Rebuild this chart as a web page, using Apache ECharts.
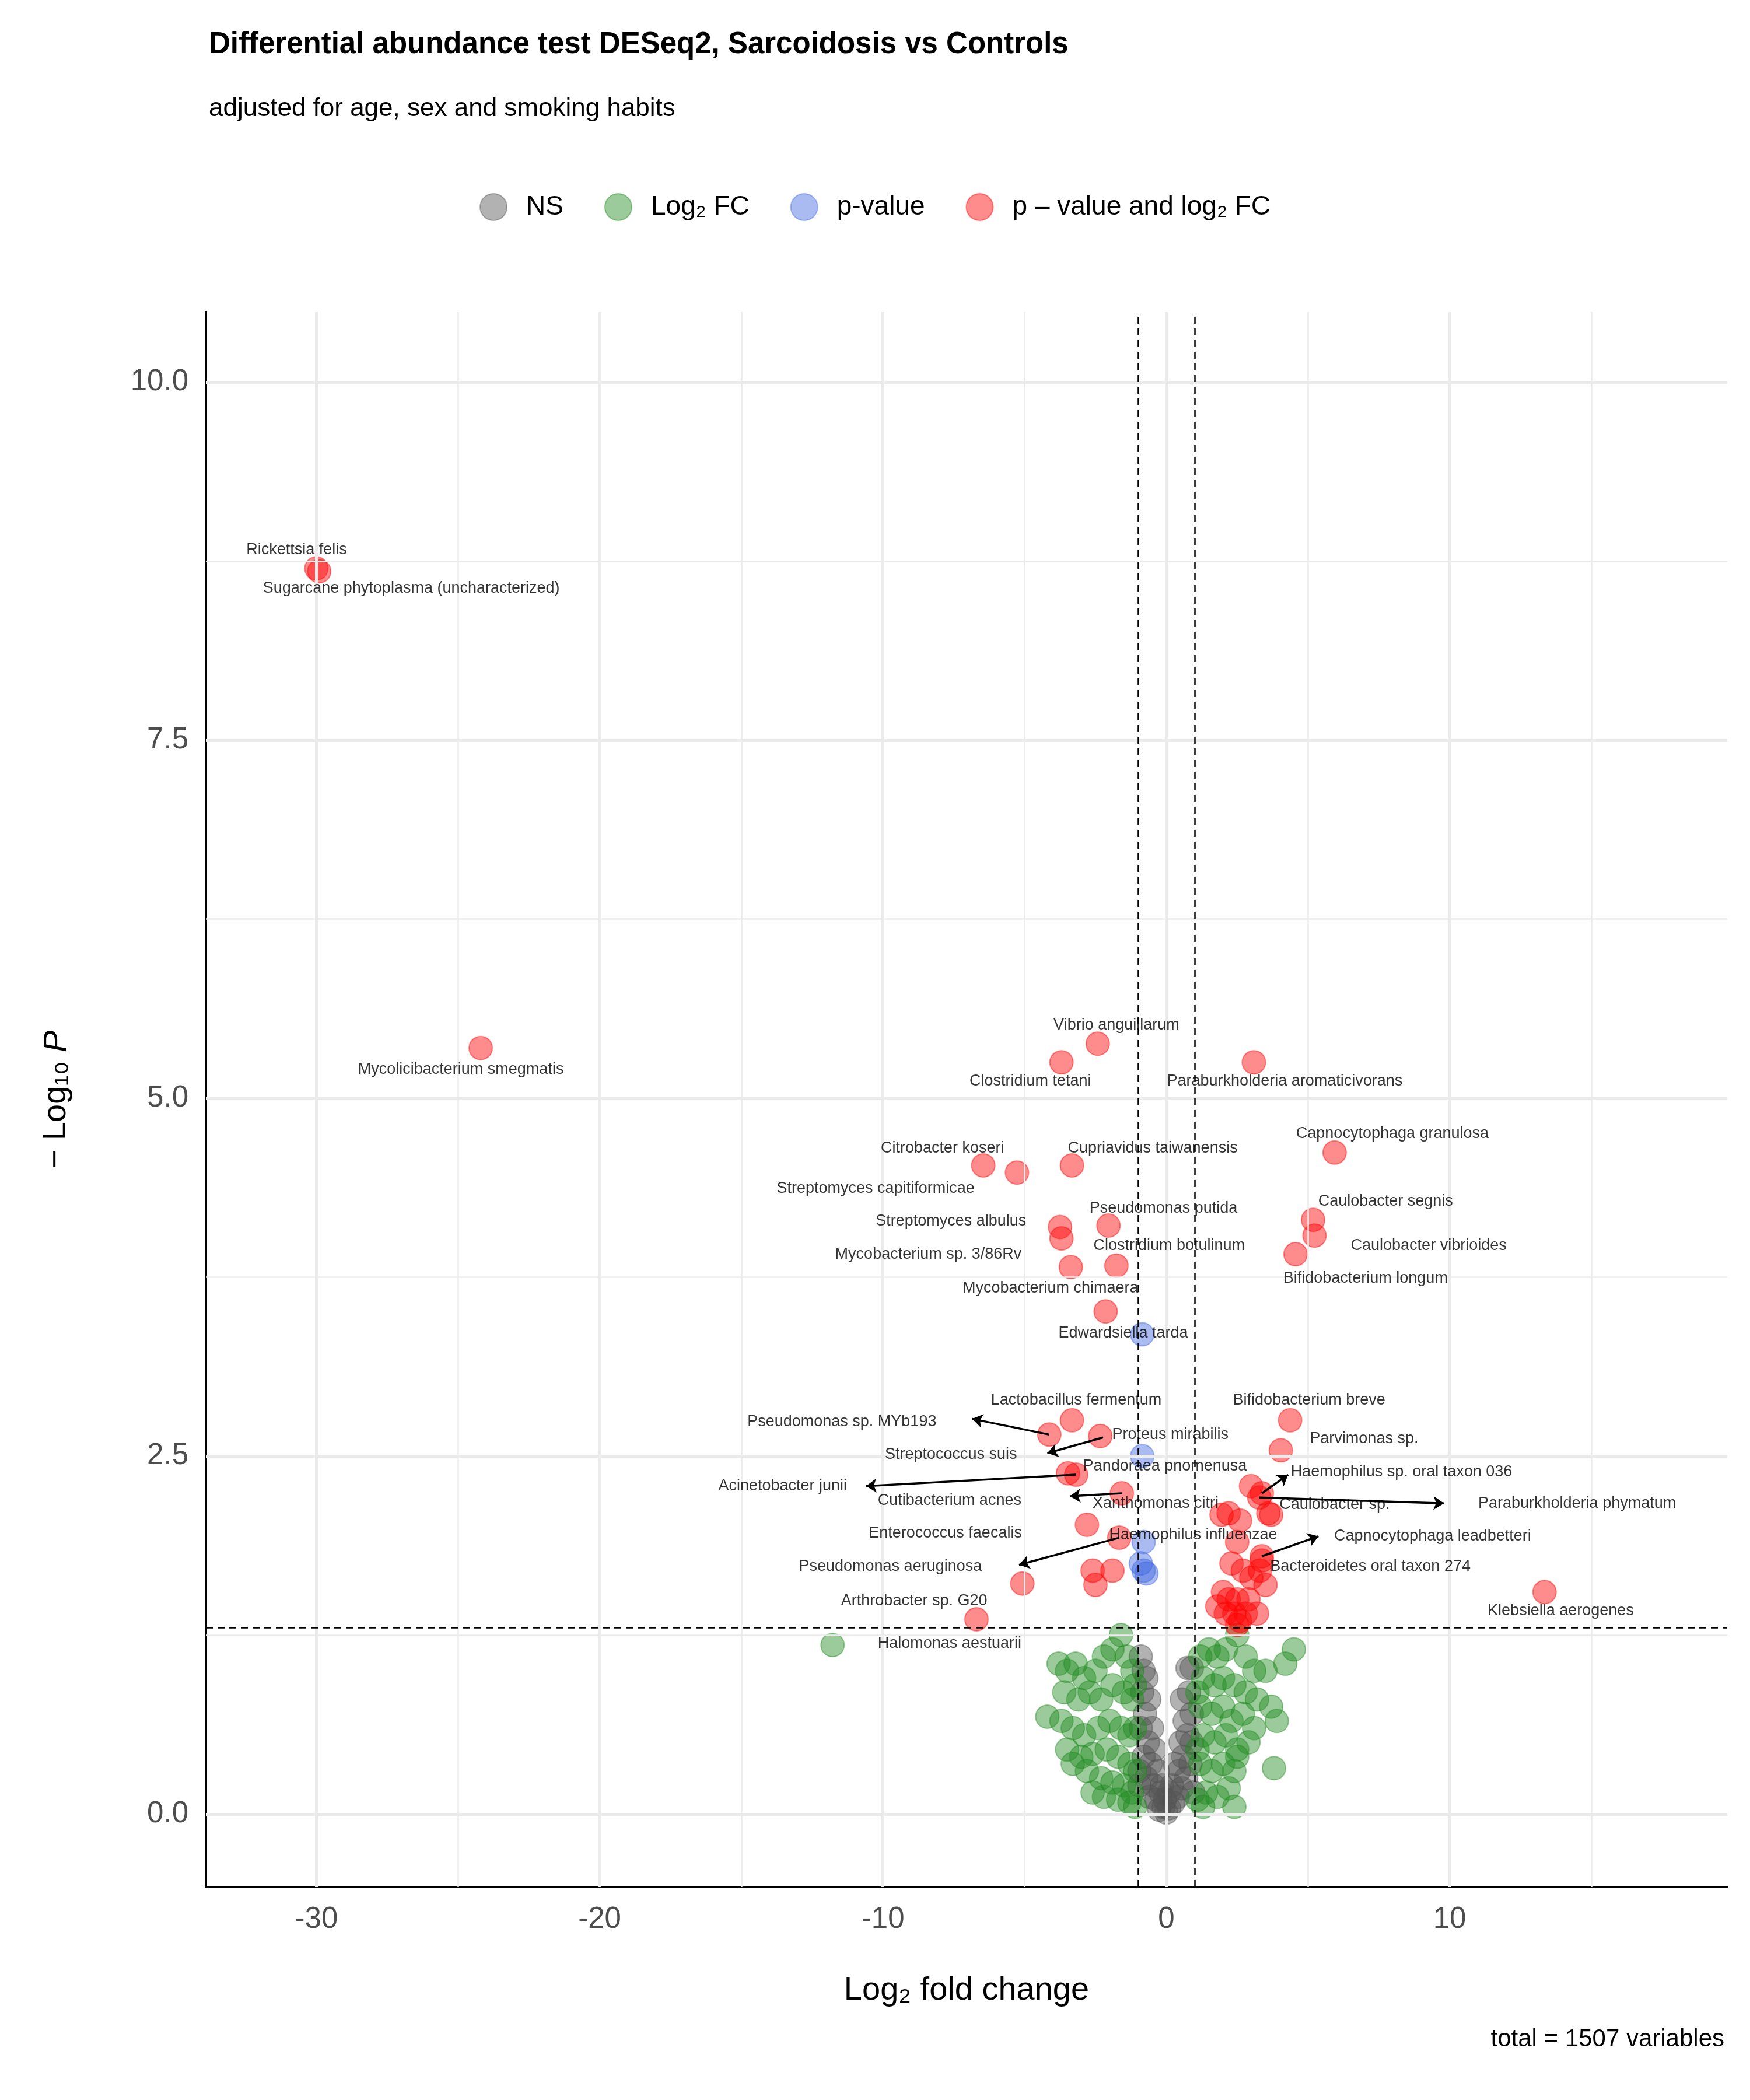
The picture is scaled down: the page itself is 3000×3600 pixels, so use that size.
<!DOCTYPE html>
<html><head><meta charset="utf-8">
<script src="https://cdn.jsdelivr.net/npm/echarts@6/dist/echarts.min.js"></script>
<style>html,body{margin:0;padding:0;background:#fff}#c{width:3000px;height:3600px}</style>
</head><body><div id="c"></div>
<script>
const FONT = '"Liberation Sans", Arial, sans-serif';
// NS (grey)
const nsPoints = [[-0.9,1.1],[-0.8,1.0],[-0.7,0.95],[-0.85,0.85],[-0.6,0.8],[-0.75,0.7],[-0.5,0.6],[-0.9,0.6],[-0.65,0.5],[-0.4,0.45],[-0.8,0.4],[-0.55,0.35],[-0.3,0.3],[-0.7,0.25],[-0.45,0.2],[-0.2,0.15],[-0.6,0.12],[-0.35,0.1],[-0.1,0.05],[-0.25,0.03],[0,0.01],[0.1,0.04],[0.25,0.08],[0.4,0.12],[0.55,0.18],[0.2,0.2],[0.7,0.25],[0.45,0.3],[0.85,0.35],[0.6,0.4],[0.3,0.35],[0.9,0.5],[0.75,0.55],[0.5,0.5],[0.9,0.7],[0.65,0.65],[0.8,0.85],[0.55,0.8],[0.75,1.02],[0.9,1.02],[-0.15,0.2],[0.1,0.15],[-0.05,0.1],[-0.95,0.3],[-0.95,0.2],[0.95,0.15]];
// Log2 FC only (green)
const fcPoints = [[-11.78,1.18],[-3.8,1.05],[-3.5,1.0],[-3.2,1.05],[-2.9,0.95],[-2.5,1.0],[-2.2,1.1],[-1.9,1.15],[-1.6,1.25],[-1.4,1.1],[-1.2,1.0],[-3.6,0.85],[-3.1,0.8],[-2.7,0.85],[-2.3,0.8],[-1.9,0.9],[-1.5,0.85],[-1.2,0.8],[-3.7,0.65],[-4.2,0.68],[-3.3,0.6],[-2.9,0.55],[-2.4,0.6],[-2.0,0.65],[-1.6,0.6],[-1.3,0.55],[-3.5,0.45],[-3.0,0.4],[-2.6,0.42],[-2.1,0.45],[-1.7,0.4],[-1.3,0.35],[-3.3,0.35],[-2.8,0.3],[-2.3,0.25],[-1.9,0.22],[-1.5,0.2],[-1.2,0.15],[-2.2,0.12],[-1.7,0.1],[-1.3,0.08],[-1.1,0.05],[-2.6,0.15],[-1.1,0.3],[-1.1,0.6],[-1.1,0.9],
[1.2,1.1],[1.5,1.15],[1.8,1.1],[2.1,1.15],[2.5,1.25],[2.8,1.1],[3.1,1.0],[3.5,1.0],[4.2,1.05],[4.5,1.15],[1.3,0.95],[1.7,0.9],[2.0,0.95],[2.4,0.9],[2.8,0.85],[3.2,0.8],[3.7,0.75],[1.2,0.75],[1.6,0.7],[2.0,0.75],[2.3,0.65],[2.7,0.7],[3.1,0.6],[3.9,0.65],[1.3,0.55],[1.7,0.5],[2.1,0.55],[2.5,0.45],[2.9,0.5],[1.2,0.35],[1.6,0.3],[2.0,0.35],[2.4,0.3],[2.5,0.4],[3.8,0.32],[1.4,0.15],[1.8,0.12],[2.2,0.18],[1.3,0.05],[1.1,0.1],[2.4,0.05],[1.1,0.45],[1.1,0.85]];
// p-value only (blue)
const pPoints = [[-0.85,3.35],[-0.85,2.5],[-0.8,1.9],[-0.8,1.7],[-0.7,1.68],[-0.9,1.75]];
// p-value and log2 FC (red)
const bothPoints = [[-30,8.70],[-29.9,8.68],[-24.2,5.35],[-2.42,5.38],[-3.7,5.25],[3.09,5.25],[5.94,4.62],[-6.46,4.53],[-3.33,4.53],[-5.27,4.48],[-2.04,4.11],[5.18,4.15],[-3.75,4.10],[5.23,4.04],[-1.76,3.83],[-3.7,4.02],[4.56,3.91],[-3.37,3.82],[-2.14,3.51],[-3.33,2.75],[4.37,2.75],[-4.13,2.65],[-2.33,2.64],[4.04,2.54],[-3.47,2.38],[2.99,2.29],[3.37,2.24],[-3.18,2.37],[-1.57,2.24],[1.95,2.09],[3.7,2.09],[3.28,2.21],[-2.8,2.02],[-1.66,1.93],[3.37,1.80],[-5.08,1.61],[3.37,1.77],[13.35,1.55],[-6.7,1.36],
[-2.6,1.7],[-2.5,1.6],[-1.9,1.7],[2.3,1.75],[2.7,1.7],[3.0,1.65],[3.5,1.6],[2.0,1.55],[2.5,1.5],[2.1,1.4],[2.4,1.4],[2.6,1.35],[2.8,1.4],[3.2,1.4],[2.2,1.5],[2.9,1.5],[1.8,1.45],[2.5,1.32],[2.2,2.1],[2.6,2.05],[3.3,1.7],[3.6,2.1],[2.5,1.9]];
// labels: [name, x, y]
const labels = [["Rickettsia felis",-30.7,8.83],["Sugarcane phytoplasma (uncharacterized)",-26.65,8.56],["Mycolicibacterium smegmatis",-24.9,5.20],["Vibrio anguillarum",-1.76,5.51],["Clostridium tetani",-4.8,5.12],["Paraburkholderia aromaticivorans",4.18,5.12],["Capnocytophaga granulosa",7.98,4.75],["Citrobacter koseri",-7.9,4.65],["Cupriavidus taiwanensis",-0.48,4.65],["Streptomyces capitiformicae",-10.26,4.37],["Pseudomonas putida",-0.1,4.23],["Caulobacter segnis",7.74,4.28],["Streptomyces albulus",-7.6,4.14],["Caulobacter vibrioides",9.26,3.97],["Clostridium botulinum",0.1,3.97],["Mycobacterium sp. 3/86Rv",-8.4,3.91],["Bifidobacterium longum",7.03,3.74],["Mycobacterium chimaera",-4.09,3.67],["Edwardsiella tarda",-1.52,3.36],["Lactobacillus fermentum",-3.18,2.89],["Bifidobacterium breve",5.04,2.89],["Pseudomonas sp. MYb193",-11.45,2.74],["Proteus mirabilis",0.14,2.65],["Parvimonas sp.",6.98,2.62],["Streptococcus suis",-7.6,2.51],["Pandoraea pnomenusa",-0.05,2.43],["Haemophilus sp. oral taxon 036",8.3,2.39],["Acinetobacter junii",-13.54,2.29],["Cutibacterium acnes",-7.65,2.19],["Xanthomonas citri",-0.38,2.17],["Caulobacter sp.",5.94,2.16],["Paraburkholderia phymatum",14.5,2.17],["Enterococcus faecalis",-7.8,1.96],["Haemophilus influenzae",0.95,1.95],["Capnocytophaga leadbetteri",9.4,1.94],["Pseudomonas aeruginosa",-9.74,1.73],["Bacteroidetes oral taxon 274",7.2,1.73],["Klebsiella aerogenes",13.92,1.42],["Arthrobacter sp. G20",-8.9,1.49],["Halomonas aestuarii",-7.65,1.19]];
// connectors: [x1,y1,x2,y2] from point to label
const arrows = [[-4.13,2.65,-6.85,2.76],[-3.18,2.37,-10.6,2.29],[3.28,2.21,9.8,2.17],[3.37,1.80,5.37,1.94],[-1.66,1.93,-5.2,1.74],[-2.23,2.63,-4.2,2.52],[-1.57,2.24,-3.4,2.22],[3.37,2.24,4.3,2.37]];
const xTicks=[-30,-20,-10,0,10], xMinor=[-25,-15,-5,5,15];
const yTicks=[0,2.5,5,7.5,10], yMinor=[1.25,3.75,6.25,8.75];
const cutX=[-1,1], cutY=[1.30103];

const near=(v,arr)=>arr.some(t=>Math.abs(v-t)<1e-6);
const gridLines = [];
xMinor.forEach(v=>gridLines.push({xAxis:v,lineStyle:{width:2.5}}));
yMinor.forEach(v=>gridLines.push({yAxis:v,lineStyle:{width:2.5}}));
xTicks.forEach(v=>gridLines.push({xAxis:v,lineStyle:{width:5}}));
yTicks.forEach(v=>gridLines.push({yAxis:v,lineStyle:{width:5}}));
const cutLines = cutX.map(v=>({xAxis:v})).concat(cutY.map(v=>({yAxis:v})));

const ch = echarts.init(document.getElementById('c'));
const pt = (name,color,data)=>({name,type:'scatter',data,symbolSize:40,z:3,
  itemStyle:{color,opacity:0.45,borderColor:color,borderWidth:2}});
ch.setOption({
  animation:false,
  textStyle:{fontFamily:FONT},
  title:[{text:'Differential abundance test DESeq2, Sarcoidosis vs Controls',left:353,top:46,
    textStyle:{fontSize:51,fontWeight:'bold',color:'#000',fontFamily:FONT}},
    {text:'adjusted for age, sex and smoking habits',left:353,top:160,
    textStyle:{fontSize:44,fontWeight:'normal',color:'#000',fontFamily:FONT}},
    {text:'total = 1507 variables',right:39,top:3470,
    textStyle:{fontSize:42,fontWeight:'normal',color:'#000',fontFamily:FONT}}],
  legend:{top:326,left:'center',icon:'circle',itemWidth:46,itemHeight:46,itemGap:70,
    textStyle:{fontSize:46,color:'#000',fontFamily:FONT,padding:[0,0,0,28]},
    data:['NS','Log₂ FC','p-value','p – value and log₂ FC']},
  grid:{left:353,right:39,top:535,bottom:365},
  xAxis:{type:'value',min:-33.9,max:19.8,interval:0.1,
    name:'Log₂ fold change',nameLocation:'middle',nameGap:150,
    nameTextStyle:{fontSize:56,color:'#000',fontFamily:FONT},
    axisLine:{onZero:false,lineStyle:{color:'#000',width:4}},
    axisTick:{show:false},
    axisLabel:{fontSize:51,color:'#4d4d4d',margin:30,hideOverlap:false,
      formatter:v=>near(v,xTicks)?String(Math.round(v)):''},
    splitLine:{show:false}},
  yAxis:{type:'value',min:-0.51,max:10.49,interval:0.01,
    name:'{a|− Log₁₀ }{b|P}',nameLocation:'middle',nameGap:228,nameRotate:90,
    nameTextStyle:{rich:{a:{fontSize:56,color:'#000',fontFamily:FONT},b:{fontSize:56,color:'#000',fontStyle:'italic',fontFamily:FONT}}},
    axisLine:{onZero:false,lineStyle:{color:'#000',width:4}},
    axisTick:{show:false},
    axisLabel:{fontSize:51,color:'#4d4d4d',margin:30,hideOverlap:false,
      formatter:v=>near(v,yTicks)?(Math.round(v*10)/10).toFixed(1):''},
    splitLine:{show:false}},
  series:[
    {type:'scatter',data:[],silent:true,z:0,
     markLine:{silent:true,symbol:'none',label:{show:false},animation:false,
       lineStyle:{color:'#ebebeb',type:'solid'},data:gridLines}},
    pt('NS','#555555',nsPoints),
    pt('Log₂ FC','#228B22',fcPoints),
    pt('p-value','#4169E1',pPoints),
    pt('p – value and log₂ FC','#FF0000',bothPoints),
    {type:'scatter',data:[],silent:true,z:4,
     markLine:{silent:true,symbol:'none',label:{show:false},animation:false,
       lineStyle:{color:'#000',type:[12,8],width:2.5},data:cutLines}},
    {type:'lines',coordinateSystem:'cartesian2d',z:5,silent:true,
     symbol:['none','arrow'],symbolSize:18,
     lineStyle:{color:'#000',width:3.5,opacity:1},
     data:arrows.map(a=>({coords:[[a[0],a[1]],[a[2],a[3]]]}))},
    {type:'scatter',z:6,silent:true,symbolSize:0,
     data:labels.map(l=>({name:l[0],value:[l[1],l[2]]})),
     label:{show:true,position:'inside',formatter:p=>p.name,fontSize:27,color:'#000',fontFamily:FONT}}
  ]
});
</script></body></html>
